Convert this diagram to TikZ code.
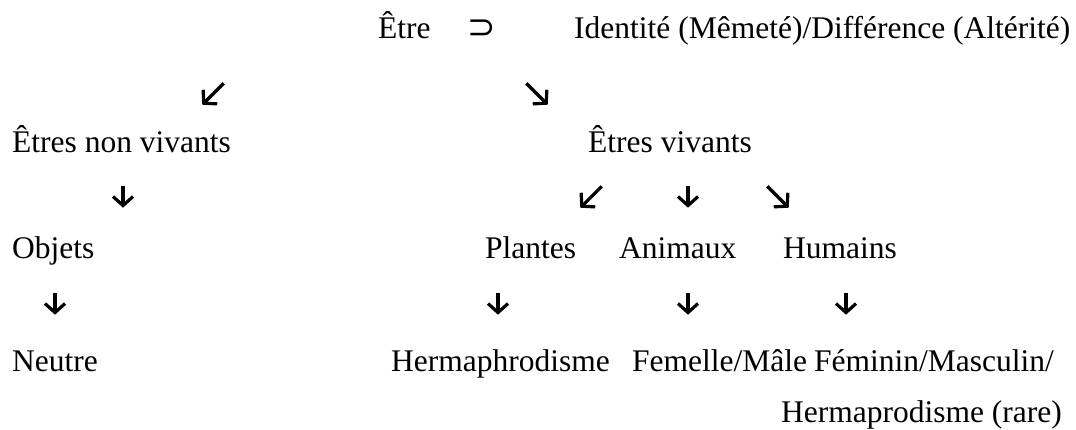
\documentclass[tikz,border=0pt]{standalone}
\usepackage{fontspec}
\setmainfont{Liberation Serif}
\newfontfamily\symfont{DejaVu Sans}
\usetikzlibrary{arrows.meta}
\begin{document}
\begin{tikzpicture}[x=1pt,y=-1pt,
  txt/.style={inner sep=0pt, font=\fontsize{31.5}{36}\selectfont},
  abox/.style={minimum width=21pt, minimum height=21pt, inner sep=0pt},
  arr/.style={line width=3.2pt, -{Straight Barb[length=9pt,width=20pt,line cap=butt,line join=miter]}}]
\useasboundingbox (0,0) rectangle (1076,429);
% row 1
\node[txt, anchor=base west] (etre) at (378,38) {Être};
\node[inner sep=0pt, font=\symfont\fontsize{34}{40}\selectfont] (sup) at (482,29) {⊃};
\node[txt, anchor=base west] (ident) at (574,38) {Identité (Mêmeté)/Différence (Altérité)};
% row 2
\node[abox] (r2a) at (213,94) {};
\node[abox] (r2b) at (537,94) {};
\draw[arr] (r2a.north east) -- (r2a.south west);
\draw[arr] (r2b.north west) -- (r2b.south east);
% row 3
\node[txt, anchor=base west] (nonviv) at (12,152) {Êtres non vivants};
\node[txt, anchor=base west] (viv) at (588,152) {Êtres vivants};
% row 4
\node[abox] (r4a) at (123,197) {};
\node[abox] (r4b) at (591,197) {};
\node[abox] (r4c) at (688,197) {};
\node[abox] (r4d) at (778,197) {};
\draw[arr] (r4a.north) -- (r4a.south);
\draw[arr] (r4b.north east) -- (r4b.south west);
\draw[arr] (r4c.north) -- (r4c.south);
\draw[arr] (r4d.north west) -- (r4d.south east);
% row 5
\node[txt, anchor=base west] (obj) at (12,258) {Objets};
\node[txt, anchor=base west] (plant) at (485,258) {Plantes};
\node[txt, anchor=base west] (anim) at (619,258) {Animaux};
\node[txt, anchor=base west] (hum) at (783,258) {Humains};
% row 6
\node[abox] (r6a) at (55,304) {};
\node[abox] (r6b) at (498,304) {};
\node[abox] (r6c) at (688,304) {};
\node[abox] (r6d) at (846,304) {};
\draw[arr] (r6a.north) -- (r6a.south);
\draw[arr] (r6b.north) -- (r6b.south);
\draw[arr] (r6c.north) -- (r6c.south);
\draw[arr] (r6d.north) -- (r6d.south);
% row 7
\node[txt, anchor=base west] (neutre) at (12,371) {Neutre};
\node[txt, anchor=base west] (herm) at (391,371) {Hermaphrodisme};
\node[txt, anchor=base west] (fem) at (632,371) {Femelle/Mâle};
\node[txt, anchor=base west] (femin) at (814,371) {Féminin/Masculin/};
% row 8
\node[txt, anchor=base east] (rare) at (1062,422) {Hermaprodisme (rare)};
\end{tikzpicture}
\end{document}
